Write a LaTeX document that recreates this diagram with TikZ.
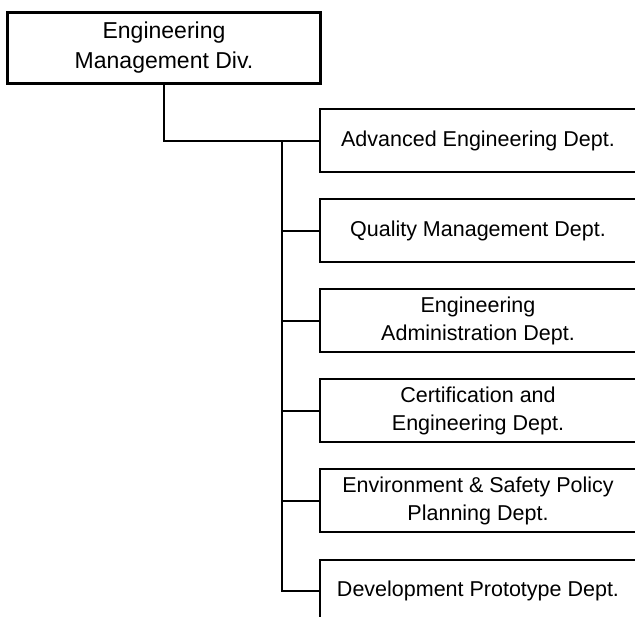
\documentclass[tikz,border=0pt]{standalone}
\usepackage{fontspec}
\setmainfont{Liberation Sans}
\begin{document}
\begin{tikzpicture}[x=1pt,y=-1pt,
  topbox/.style={draw=black,line width=3pt,rectangle,inner sep=0pt,
    minimum width=312.5pt,minimum height=71pt,align=center,
    font=\fontsize{23}{30}\selectfont},
  deptbox/.style={draw=black,line width=2pt,rectangle,inner sep=0pt,
    minimum width=316pt,minimum height=63pt,align=center,
    font=\fontsize{21.5}{28}\selectfont},
  conn/.style={draw=black,line width=1.8pt}]
\useasboundingbox (0,0) rectangle (635,617);
\fill[white] (0,0) rectangle (635,617);
\node[topbox] (top) at (164,48) {Engineering\\Management Div.};
\node[deptbox] (b1) at (478,141) {Advanced Engineering Dept.};
\node[deptbox] (b2) at (478,231) {Quality Management Dept.};
\node[deptbox] (b3) at (478,321) {Engineering\\Administration Dept.};
\node[deptbox] (b4) at (478,411) {Certification and\\Engineering Dept.};
\node[deptbox] (b5) at (478,501) {Environment \& Safety Policy\\Planning Dept.};
\node[deptbox] (b6) at (478,591) {Development Prototype Dept.};
\coordinate (t) at (282,141);
\draw[conn] (top.south) |- (b1.west);
\draw[conn] (t) |- (b6.west);
\draw[conn] (b2.west) -- (b2.west -| t);
\draw[conn] (b3.west) -- (b3.west -| t);
\draw[conn] (b4.west) -- (b4.west -| t);
\draw[conn] (b5.west) -- (b5.west -| t);
\end{tikzpicture}
\end{document}
